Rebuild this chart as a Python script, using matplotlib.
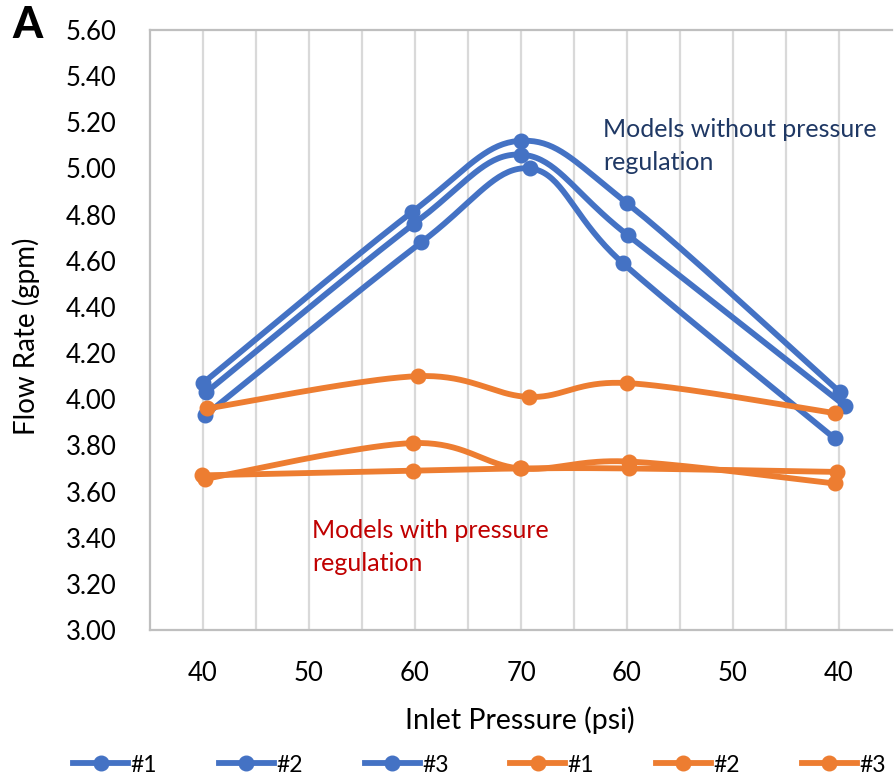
import numpy as np
import matplotlib
matplotlib.use("Agg")
import matplotlib.pyplot as plt
from matplotlib.lines import Line2D

plt.rcParams['font.family'] = ['Lato', 'DejaVu Sans']

# ---- data ----
tick_positions = [40, 50, 60, 70, 80, 90, 100]
tick_labels = ["40", "50", "60", "70", "60", "50", "40"]
y_ticks = [3.00, 3.20, 3.40, 3.60, 3.80, 4.00, 4.20, 4.40, 4.60, 4.80, 5.00, 5.20, 5.40, 5.60]

blue1_x = [40.0, 59.7, 70.0, 80.0, 100.1]
blue1_y = [4.07, 4.81, 5.12, 4.85, 4.03]
blue2_x = [40.3, 59.9, 70.0, 80.1, 100.6]
blue2_y = [4.03, 4.76, 5.06, 4.71, 3.97]
blue3_x = [40.2, 60.6, 70.85, 79.6, 99.6]
blue3_y = [3.93, 4.68, 5.00, 4.59, 3.83]

orange1_x = [40.4, 60.3, 70.75, 80.0, 99.6]
orange1_y = [3.96, 4.10, 4.01, 4.07, 3.94]
orange2_x = [40.2, 59.8, 69.9, 80.2, 99.6]
orange2_y = [3.655, 3.81, 3.70, 3.73, 3.635]
orange3_x = [39.9, 59.8, 70.0, 80.2, 99.8]
orange3_y = [3.67, 3.69, 3.70, 3.70, 3.685]

series_labels = ["#1", "#2", "#3", "#1", "#2", "#3"]

BLUE = "#4472C4"
ORANGE = "#ED7D31"


def smooth(xs, ys, n=40):
    """Excel-style smoothing (Catmull-Rom Bezier) through the points."""
    P = np.column_stack([xs, ys]).astype(float)
    m = len(P)
    out = []
    for i in range(m - 1):
        p0 = P[i - 1] if i > 0 else P[i]
        p1 = P[i]
        p2 = P[i + 1]
        p3 = P[i + 2] if i + 2 < m else P[i + 1]
        c1 = p1 + (p2 - p0) / 6.0
        c2 = p2 - (p3 - p1) / 6.0
        t = np.linspace(0, 1, n)[:, None]
        seg = ((1 - t) ** 3) * p1 + 3 * ((1 - t) ** 2) * t * c1 + 3 * (1 - t) * t ** 2 * c2 + t ** 3 * p2
        out.append(seg if i == 0 else seg[1:])
    s = np.vstack(out)
    return s[:, 0], s[:, 1]


fig = plt.figure(figsize=(8.96, 7.82), dpi=100)
ax = fig.add_axes([150 / 896, 1 - 630 / 782, 742 / 896, 600 / 782])

LW = 4.2
MS = 10.5
series = [
    (blue1_x, blue1_y, BLUE), (blue2_x, blue2_y, BLUE), (blue3_x, blue3_y, BLUE),
    (orange1_x, orange1_y, ORANGE), (orange2_x, orange2_y, ORANGE), (orange3_x, orange3_y, ORANGE),
]
for xs, ys, c in series:
    sx, sy = smooth(xs, ys)
    ax.plot(sx, sy, color=c, lw=LW, solid_capstyle='round', zorder=3)
    ax.plot(xs, ys, 'o', color=c, ms=MS, zorder=4)

ax.set_xlim(35, 105)
ax.set_ylim(3.0, 5.6)
ax.set_xticks(tick_positions)
ax.set_xticklabels(tick_labels)
ax.set_yticks(y_ticks)
ax.set_yticklabels([f"{v:.2f}" for v in y_ticks])
for gx in range(40, 105, 5):
    ax.axvline(gx, color="#D9D9D9", lw=1.6, zorder=1)

ax.tick_params(axis='both', length=0, labelsize=18.5, colors='black')
ax.tick_params(axis='y', pad=24)
ax.tick_params(axis='x', pad=22)
for side in ['left', 'top', 'bottom']:
    ax.spines[side].set_color('#BFBFBF')
    ax.spines[side].set_linewidth(1.6)
ax.spines['right'].set_visible(False)

ax.set_xlabel("Inlet Pressure (psi)", fontsize=20.5)
ax.xaxis.set_label_coords(0.4987, -0.128)
ax.set_ylabel("Flow Rate (gpm)", fontsize=20)
ax.yaxis.set_label_coords(-0.148, 0.49)

ax.text(603 / 896, 1 - 146 / 782, "Models without pressure\nregulation", transform=fig.transFigure,
        color="#1F3864", fontsize=18, ha='left', va='center', linespacing=1.55, zorder=5)
ax.text(312 / 896, 1 - 547 / 782, "Models with pressure\nregulation", transform=fig.transFigure,
        color="#C00000", fontsize=18, ha='left', va='center', linespacing=1.55, zorder=5)

fig.text(12 / 896, 1 - 25 / 782, "A", fontsize=31, fontweight='black', ha='left', va='center')

handles = [Line2D([0], [0], color=c, lw=LW, marker='o', ms=MS) for _, _, c in series]
fig.legend(handles, series_labels, loc='center', bbox_to_anchor=(0.535, 1 - 765 / 782), ncol=6,
           frameon=False, fontsize=16.5, handlelength=2.4, handletextpad=0.1, columnspacing=2.7)

fig.savefig("out.png", dpi=100)
